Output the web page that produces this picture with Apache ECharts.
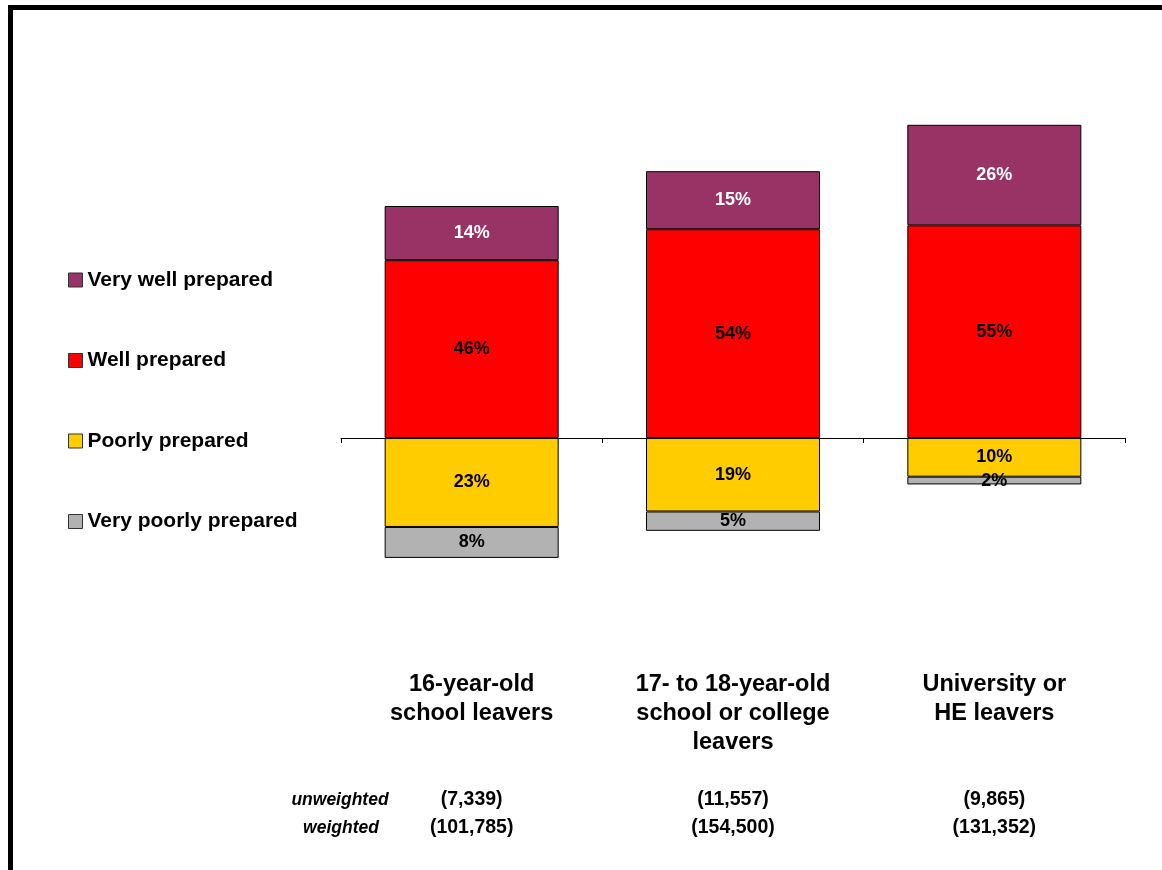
<!DOCTYPE html>
<html>
<head>
<meta charset="utf-8">
<script src="https://cdn.jsdelivr.net/npm/echarts@6/dist/echarts.min.js"></script>
<style>
  html, body { margin: 0; padding: 0; background: #ffffff; }
  #chart { width: 1162px; height: 870px; }
</style>
</head>
<body>
<div id="chart"></div>
<script>
// Leaver groups and survey sizes
const categories = [
  '16-year-old\nschool leavers',
  '17- to 18-year-old\nschool or college\nleavers',
  'University or\nHE leavers'
];
const unweightedCounts = ['(7,339)', '(11,557)', '(9,865)'];
const weightedCounts = ['(101,785)', '(154,500)', '(131,352)'];

// Share of employers rating recruits (%); poor ratings drawn below zero
const veryWell = [14, 15, 26];
const well = [46, 54, 55];
const poorly = [-23, -19, -10];
const veryPoorly = [-8, -5, -2];

const FONT = 'Arial, "Liberation Sans", sans-serif';
const chart = echarts.init(document.getElementById('chart'), null, { renderer: 'canvas' });

function seg(name, data, color, labelColor) {
  return {
    name: name,
    type: 'bar',
    stack: 'total',
    data: data,
    barWidth: 174,
    itemStyle: { color: color, borderColor: '#000000', borderWidth: 1 },
    label: {
      show: true,
      position: 'inside',
      color: labelColor,
      fontFamily: FONT,
      fontWeight: 'bold',
      fontSize: 18,
      formatter: p => Math.abs(p.value) + '%'
    },
    emphasis: { disabled: true }
  };
}

function countAxis(data, margin) {
  return {
    type: 'category',
    position: 'bottom',
    data: data,
    axisLine: { show: false, onZero: false },
    axisTick: { show: false },
    axisLabel: {
      margin: margin,
      color: '#000000',
      fontFamily: FONT,
      fontWeight: 'bold',
      fontSize: 19.5,
      lineHeight: 24,
      interval: 0
    }
  };
}

const option = {
  backgroundColor: '#ffffff',
  animation: false,
  grid: { left: 341, right: 37, top: 90, height: 502.7, outerBoundsMode: 'none', containLabel: false },
  legend: {
    orient: 'vertical',
    left: 68,
    top: 268,
    padding: 0,
    itemWidth: 14,
    itemHeight: 14,
    itemGap: 56.5,
    icon: 'rect',
    selectedMode: false,
    data: ['Very well prepared', 'Well prepared', 'Poorly prepared', 'Very poorly prepared'],
    itemStyle: { borderColor: '#333333', borderWidth: 1 },
    textStyle: {
      fontFamily: FONT,
      fontWeight: 'bold',
      fontSize: 21,
      lineHeight: 24,
      color: '#000000'
    }
  },
  xAxis: [
    {
      type: 'category',
      data: categories,
      axisLine: { onZero: true, lineStyle: { color: '#000000', width: 1 } },
      axisTick: { show: true, length: 5, lineStyle: { color: '#000000' } },
      axisLabel: {
        margin: 77,
        color: '#000000',
        fontFamily: FONT,
        fontWeight: 'bold',
        fontSize: 23.5,
        lineHeight: 29,
        interval: 0
      }
    },
    countAxis(unweightedCounts, 195),
    countAxis(weightedCounts, 223)
  ],
  yAxis: {
    type: 'value',
    min: -40,
    max: 90,
    show: false,
    splitLine: { show: false }
  },
  series: [
    seg('Well prepared', well, '#FF0000', '#000000'),
    seg('Very well prepared', veryWell, '#993366', '#FFFFFF'),
    seg('Poorly prepared', poorly, '#FFCC00', '#000000'),
    seg('Very poorly prepared', veryPoorly, '#B2B2B2', '#000000')
  ],
  graphic: [
    // frame edges
    { type: 'rect', shape: { x: 8, y: 5, width: 1154, height: 5 }, style: { fill: '#000000' }, silent: true },
    { type: 'rect', shape: { x: 8, y: 5, width: 5, height: 865 }, style: { fill: '#000000' }, silent: true },
    // row captions for the sample sizes
    {
      type: 'text', x: 340, y: 800, silent: true,
      style: { text: 'unweighted', align: 'center', verticalAlign: 'middle', fill: '#000000',
        font: 'italic bold 17.5px ' + FONT }
    },
    {
      type: 'text', x: 341, y: 828, silent: true,
      style: { text: 'weighted', align: 'center', verticalAlign: 'middle', fill: '#000000',
        font: 'italic bold 17.5px ' + FONT }
    }
  ]
};

chart.setOption(option);
</script>
</body>
</html>
